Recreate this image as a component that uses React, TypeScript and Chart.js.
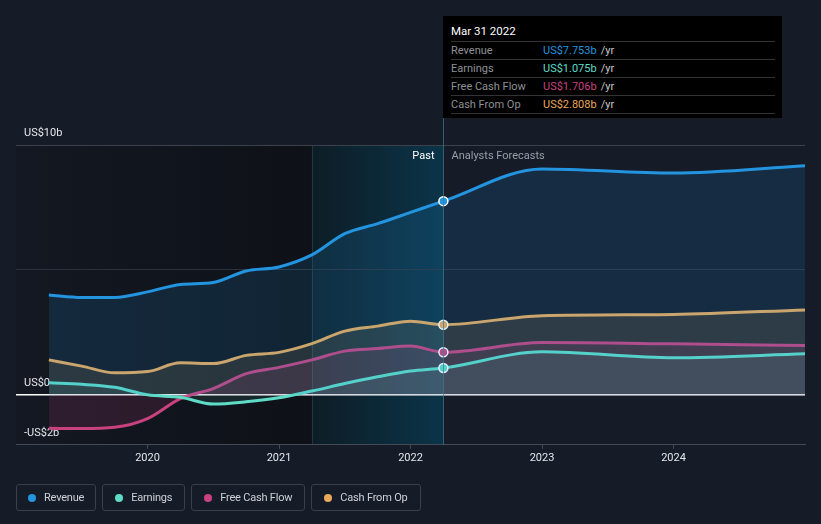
import React, { useEffect, useRef } from "react";
import { Chart, registerables } from "chart.js";

Chart.register(...registerables);

// ---- data (US$ billions) ----
const periods = [2019.25, 2019.5, 2019.75, 2020, 2020.25, 2020.5, 2020.75, 2021, 2021.25, 2021.5, 2021.75, 2022, 2022.25, 2023, 2024, 2025];
const revenue = [4.0, 3.9, 3.9, 4.12, 4.42, 4.5, 4.96, 5.12, 5.6, 6.45, 6.85, 7.3, 7.753, 9.04, 8.88, 9.17];
const earnings = [0.48, 0.42, 0.3, 0.0, -0.1, -0.37, -0.28, -0.12, 0.15, 0.45, 0.72, 0.95, 1.075, 1.72, 1.48, 1.64];
const freeCashFlow = [-1.34, -1.35, -1.3, -0.95, -0.15, 0.25, 0.85, 1.1, 1.4, 1.75, 1.85, 1.95, 1.706, 2.09, 2.04, 1.97];
const cashFromOp = [1.4, 1.15, 0.88, 0.93, 1.28, 1.25, 1.58, 1.7, 2.05, 2.55, 2.75, 2.95, 2.808, 3.17, 3.22, 3.4];

const xTicks = [2020, 2021, 2022, 2023, 2024];
const yTicks = [-2, 0, 5, 10];
const yTickLabels: Record<string, string> = { "10": "US$10b", "0": "US$0", "-2": "-US$2b" };

const xMin = 2019;
const xMax = 2025;
const pastBandStart = 2021.25;
const nowX = 2022.25;
const nowIndex = 12;

const seriesNames = ["Revenue", "Earnings", "Free Cash Flow", "Cash From Op"];
const seriesColors = ["#2394df", "#5fdcc8", "#c8427f", "#e8a95a"];
const seriesFill = [
  "rgba(35,148,223,0.15)",
  "rgba(95,220,200,0.10)",
  "rgba(200,66,127,0.15)",
  "rgba(232,169,90,0.13)",
];
const tooltipDate = "Mar 31 2022";
const tooltipValues = ["US$7.753b", "US$1.075b", "US$1.706b", "US$2.808b"];

const FONT = "Roboto, 'Noto Sans', sans-serif";

const overlayPlugin = {
  id: "overlay",
  beforeDraw(chart: any) {
    const { ctx, chartArea: a, scales } = chart;
    const x = scales.x;
    const bandL = x.getPixelForValue(pastBandStart);
    const now = x.getPixelForValue(nowX);
    ctx.save();
    const g1 = ctx.createLinearGradient(a.left, 0, bandL, 0);
    g1.addColorStop(0, "#131822");
    g1.addColorStop(1, "#0e1117");
    ctx.fillStyle = g1;
    ctx.fillRect(a.left, a.top, bandL - a.left, a.bottom - a.top);
    const g2 = ctx.createLinearGradient(bandL, 0, now, 0);
    g2.addColorStop(0, "#0d1d26");
    g2.addColorStop(1, "#0b3448");
    ctx.fillStyle = g2;
    ctx.fillRect(bandL, a.top, now - bandL, a.bottom - a.top);
    ctx.strokeStyle = "rgba(60,110,130,0.35)";
    ctx.lineWidth = 1;
    ctx.beginPath();
    ctx.moveTo(Math.round(bandL) + 0.5, a.top);
    ctx.lineTo(Math.round(bandL) + 0.5, a.bottom);
    ctx.stroke();
    ctx.restore();
  },
  afterDatasetsDraw(chart: any) {
    const { ctx, chartArea: a, scales } = chart;
    const now = Math.round(scales.x.getPixelForValue(nowX)) + 0.5;
    ctx.save();
    ctx.strokeStyle = "rgba(70,120,140,0.7)";
    ctx.lineWidth = 1;
    ctx.beginPath();
    ctx.moveTo(now, 118);
    ctx.lineTo(now, a.bottom);
    ctx.stroke();
    ctx.font = `11px ${FONT}`;
    ctx.textBaseline = "middle";
    ctx.textAlign = "right";
    ctx.fillStyle = "#ffffff";
    ctx.fillText("Past", now - 9, a.top + 11);
    ctx.textAlign = "left";
    ctx.fillStyle = "#9a9ea6";
    ctx.fillText("Analysts Forecasts", now + 8, a.top + 11);
    ctx.restore();
  },
};

function ChartCanvas() {
  const ref = useRef<HTMLCanvasElement | null>(null);
  useEffect(() => {
    if (!ref.current) return;
    const series = [revenue, earnings, freeCashFlow, cashFromOp];
    const datasets = series.map((vals, i) => ({
      label: seriesNames[i],
      data: vals.map((v, j) => ({ x: periods[j], y: v })),
      borderColor: seriesColors[i],
      backgroundColor: seriesFill[i],
      fill: "origin",
      borderWidth: 3,
      cubicInterpolationMode: "monotone" as const,
      pointRadius: (c: any) => (c.dataIndex === nowIndex ? 4.5 : 0),
      pointHoverRadius: 0,
      pointBackgroundColor: seriesColors[i],
      pointBorderColor: "#ffffff",
      pointBorderWidth: 1.5,
      order: i,
    }));
    const chart = new Chart(ref.current, {
      type: "line",
      data: { datasets },
      plugins: [overlayPlugin],
      options: {
        responsive: false,
        animation: false,
        events: [],
        layout: { padding: { top: 145, left: 0, right: 16, bottom: 56 } },
        plugins: { legend: { display: false }, tooltip: { enabled: false } },
        scales: {
          x: {
            type: "linear",
            min: xMin,
            max: xMax,
            afterBuildTicks: (s: any) => {
              s.ticks = xTicks.map((v) => ({ value: v }));
            },
            ticks: {
              color: "#e4e6ea",
              font: { family: FONT, size: 11 },
              padding: 3,
              maxRotation: 0,
              callback: (v: any) => String(v),
            },
            grid: {
              drawOnChartArea: false,
              drawTicks: true,
              tickLength: 4,
              color: "#454b56",
            },
            border: { display: true, color: "#454b56", width: 1 },
          },
          y: {
            type: "linear",
            min: -2,
            max: 10,
            afterBuildTicks: (s: any) => {
              s.ticks = yTicks.map((v) => ({ value: v }));
            },
            ticks: {
              mirror: true,
              padding: 8,
              labelOffset: -12,
              color: "#e4e6ea",
              font: { family: FONT, size: 11 },
              callback: (v: any) => yTickLabels[String(v)] ?? "",
            },
            grid: {
              drawTicks: false,
              color: (c: any) => (c.tick && c.tick.value === 0 ? "#ffffff" : c.tick && c.tick.value === 5 ? "#2c323d" : "#3c424d"),
              lineWidth: (c: any) => (c.tick && c.tick.value === 0 ? 1.5 : 1),
            },
            border: { display: false },
          },
        },
      },
    } as any);
    return () => chart.destroy();
  }, []);
  return <canvas ref={ref} width={821} height={524} style={{ position: "absolute", left: 0, top: 0, width: 821, height: 524 }} />;
}

export default function App() {
  return (
    <div
      style={{
        position: "fixed",
        left: 0,
        top: 0,
        width: 821,
        height: 524,
        background: "#151b27",
        fontFamily: FONT,
        overflow: "hidden",
      }}
    >
      <ChartCanvas />
      <div
        style={{
          position: "absolute",
          left: 443,
          top: 16,
          width: 339,
          height: 102,
          background: "#000000",
          fontSize: 11,
        }}
      >
        <div style={{ position: "absolute", left: 8, top: 7, height: 17, lineHeight: "17px", color: "#ffffff", fontSize: 11.5 }}>{tooltipDate}</div>
        <div style={{ position: "absolute", left: 8, top: 25, width: 324 }}>
          {seriesNames.map((n, i) => (
            <div
              key={n}
              style={{
                height: 17,
                lineHeight: "17px",
                borderTop: "1px solid #333333",
                borderBottom: i === seriesNames.length - 1 ? "1px solid #333333" : "none",
                display: "flex",
              }}
            >
              <span style={{ width: 92, color: "#8e9096" }}>{n}</span>
              <span style={{ color: seriesColors[i] }}>{tooltipValues[i]}</span>
              <span style={{ color: "#c8c8c8", marginLeft: 4 }}>/yr</span>
            </div>
          ))}
        </div>
      </div>
      <div style={{ position: "absolute", left: 16, top: 484, display: "flex", gap: 6 }}>
        {seriesNames.map((n, i) => (
          <div
            key={n}
            style={{
              height: 25,
              border: "1px solid #3a404b",
              borderRadius: 3,
              display: "flex",
              alignItems: "center",
              padding: i === 0 ? "0 11px 0 11px" : "0 12px 0 12px",
              color: "#cfd1d6",
              fontSize: 11,
              letterSpacing: -0.2,
              whiteSpace: "nowrap",
            }}
          >
            <span
              style={{
                width: 8,
                height: 8,
                borderRadius: 4,
                background: seriesColors[i],
                marginRight: 8,
                display: "inline-block",
                flex: "none",
              }}
            />
            {n}
          </div>
        ))}
      </div>
    </div>
  );
}
